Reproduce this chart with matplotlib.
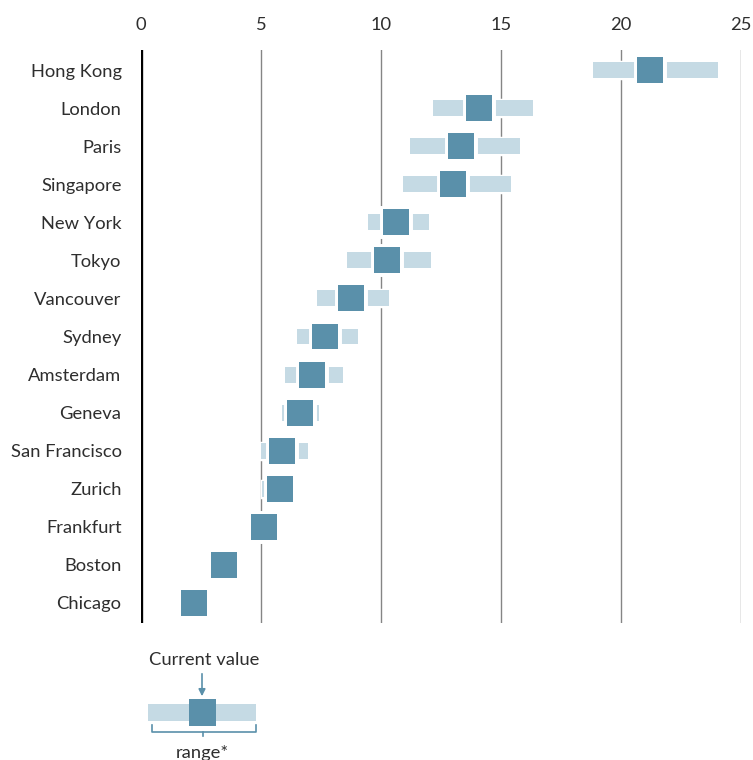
import matplotlib
matplotlib.use("Agg")
import matplotlib.pyplot as plt
from matplotlib.patches import Rectangle, FancyArrowPatch

cities = ["Hong Kong", "London", "Paris", "Singapore", "New York", "Tokyo",
          "Vancouver", "Sydney", "Amsterdam", "Geneva", "San Francisco",
          "Zurich", "Frankfurt", "Boston", "Chicago"]
current = [21.22, 14.08, 13.32, 12.98, 10.63, 10.23, 8.73, 7.65, 7.14, 6.61,
           5.89, 5.79, 5.13, 3.47, 2.22]
range_lo = [18.85, 12.18, 11.21, 10.93, 9.45, 8.58, 7.35, 6.49, 6.01, 5.88,
            5.00, 5.05, 5.13, 3.47, 2.22]
range_hi = [24.03, 16.32, 15.78, 15.43, 12.01, 12.10, 10.33, 9.05, 8.43, 7.42,
            6.95, 6.45, 5.13, 3.47, 2.22]
xticks = [0, 5, 10, 15, 20, 25]

DARK = "#5a90aa"
LIGHT = "#c5dae4"
TEXT = "#2e2e2e"

plt.rcParams["font.family"] = ["Lato", "DejaVu Sans"]
FS = 13.2

fig = plt.figure(figsize=(7.53, 7.60), dpi=100)
ax = fig.add_axes([141/753, 1-623/760, 600/753, (623-50)/760])

ypos = list(range(len(cities)))
sq_w = 1.083
sq_h = 0.683
bar_h = 0.42

widths = [h - l for l, h in zip(range_lo, range_hi)]
# white halos + light range bars
ax.barh(ypos, widths, left=range_lo, height=bar_h, color="white",
        edgecolor="white", linewidth=2.5, zorder=2)
ax.barh(ypos, widths, left=range_lo, height=bar_h, color=LIGHT,
        linewidth=0, zorder=3)
# white halos + current value squares
sq_left = [c - sq_w/2 for c in current]
ax.barh(ypos, [sq_w]*len(cities), left=sq_left, height=sq_h, color="white",
        edgecolor="white", linewidth=5, zorder=4)
ax.barh(ypos, [sq_w]*len(cities), left=sq_left, height=sq_h, color=DARK,
        linewidth=0, zorder=5)

ax.set_xlim(0, 25)
ax.set_ylim(14.53, -0.53)
ax.set_yticks(ypos)
ax.set_yticklabels(cities)
ax.set_xticks(xticks)
ax.set_xticklabels([str(t) for t in xticks])
ax.xaxis.tick_top()
ax.tick_params(axis="x", length=0, pad=12, labelsize=FS, labelcolor=TEXT)
ax.tick_params(axis="y", length=0, pad=14, labelsize=FS, labelcolor=TEXT)
for s in ax.spines.values():
    s.set_visible(False)
for t in xticks[1:]:
    ax.axvline(t, color="#858585", linewidth=1.0, zorder=1)
ax.axvline(0, color="black", linewidth=2.4, zorder=6)

# legend drawn in pixel-space overlay
lg = fig.add_axes([0, 0, 1, 1])
lg.set_xlim(0, 753)
lg.set_ylim(760, 0)
lg.axis("off")
lg.text(204, 660, "Current value", ha="center", va="center", fontsize=FS,
        color=TEXT)
lg.add_patch(Rectangle((148.5, 704), 108, 16.5, color=LIGHT, lw=0))
lg.add_patch(Rectangle((189.5, 699), 26.5, 26.5, color=DARK, lw=0))
lg.add_patch(FancyArrowPatch((202, 671), (202, 699), arrowstyle="-|>",
                             mutation_scale=10, color=DARK, lw=1.2))
lg.plot([152, 152, 256, 256], [725, 731.5, 731.5, 725], color=DARK, lw=1.2)
lg.plot([203, 203], [731.5, 736], color=DARK, lw=1.2)
lg.text(202, 753, "range*", ha="center", va="center", fontsize=FS,
        color=TEXT)

fig.savefig("out.png", dpi=100)
